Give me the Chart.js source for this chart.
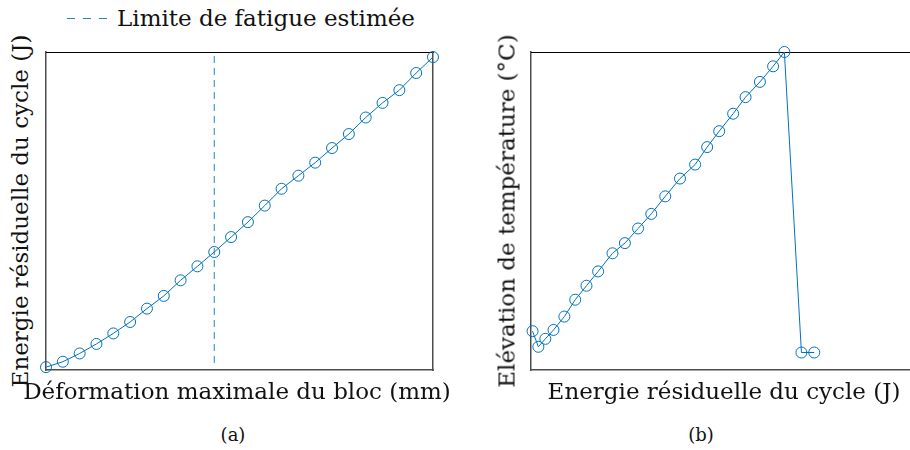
<!DOCTYPE html>
<html>
<head>
<meta charset="utf-8">
<script src="https://cdn.jsdelivr.net/npm/chart.js@4/dist/chart.umd.min.js"></script>
<style>
html,body{margin:0;padding:0;background:#fff;overflow:hidden;width:910px;height:450px;}
body{position:relative;font-family:"DejaVu Serif",serif;color:#111;}
canvas{position:absolute;}
.lbl{position:absolute;white-space:nowrap;font-size:23px;line-height:23px;}
.cap{position:absolute;white-space:nowrap;font-size:18px;line-height:18px;transform:translateX(-50%);}
.xt{transform:translateX(-50%);}
.yt{transform:translate(-50%,-50%) rotate(-90deg);}
#legendLine{position:absolute;left:67px;top:18px;width:40px;height:1px;
  background:repeating-linear-gradient(to right,#1f86d0 0 8px,transparent 8px 16px);}
</style>
</head>
<body>
<div id="legendLine"></div>
<div class="lbl" style="left:117px;top:7px;">Limite de fatigue estimée</div>

<canvas id="chartA" width="411" height="342" style="left:34px;top:40px;"></canvas>
<canvas id="chartB" width="412" height="342" style="left:519px;top:40px;"></canvas>

<div class="lbl yt" style="left:20px;top:211px;">Energie résiduelle du cycle (J)</div>
<div class="lbl xt" style="left:237px;top:380px;">Déformation maximale du bloc (mm)</div>
<div class="lbl yt" style="left:507px;top:211px;">Elévation de température (°C)</div>
<div class="lbl xt" style="left:724px;top:380px;">Energie résiduelle du cycle (J)</div>

<div class="cap" style="left:233px;top:426px;">(a)</div>
<div class="cap" style="left:701px;top:426px;">(b)</div>

<script>
const BLUE = "#0072BD";
const DASH = "#1f86d0";

// (a) energie residuelle vs deformation
const deformation = [1,2,3,4,5,6,7,8,9,10,11,12,13,14,15,16,17,18,19,20,21,22,23,24];
const energyA = [0.9,2.6,5.2,8.2,11.5,15.1,19.3,23.3,28.2,32.6,37.1,41.8,46.5,51.7,57.0,61.1,65.2,69.8,74.2,79.4,84.0,88.0,93.4,98.4];
const fatigueX = [11, 11];
const fatigueY = [2.2, 100];

// (b) elevation de temperature vs energie residuelle
const energyB = [0.4,1.9,3.7,5.8,8.6,11.4,14.3,17.3,21.0,24.2,27.6,31.0,34.6,38.4,42.3,45.4,48.5,52.1,55.3,59.0,62.4,65.3,69.7,73.0];
const tempB = [12.2,7.3,9.8,12.6,16.8,22.1,26.5,31.0,36.7,39.9,44.5,49.1,54.6,60.2,64.6,70.1,75.1,80.6,85.8,90.6,95.5,100,5.5,5.5];

function pts(xs, ys) { return xs.map((x,i)=>({x, y: ys[i]})); }

function frameScales(xmin, xmax, ymin, ymax) {
  const off = { display:false, drawTicks:false };
  const side = (pos, axis, min, max, color, width) => ({
    type:"linear", position:pos, axis, min, max,
    ticks:{display:false}, grid:off,
    border:{display:true, color, width}
  });
  return {
    x:  side("bottom","x",xmin,xmax,"#4d4d4d",1.5),
    y:  side("left","y",ymin,ymax,"#4d4d4d",1.5),
    x2: side("top","x",xmin,xmax,"#000",1),
    y2: side("right","y",ymin,ymax,"#4d4d4d",1.5)
  };
}

function seriesStyle(data) {
  return {
    data, showLine:true, tension:0, clip:false,
    borderColor:BLUE, borderWidth:1,
    pointRadius:5.5, pointHoverRadius:5.5,
    pointBorderColor:BLUE, pointBorderWidth:1,
    pointBackgroundColor:"rgba(0,0,0,0)"
  };
}

const common = {
  responsive:false, animation:false,
  layout:{padding:12},
  plugins:{legend:{display:false}, tooltip:{enabled:false}}
};

new Chart(document.getElementById("chartA"), {
  type:"scatter",
  data:{datasets:[
    seriesStyle(pts(deformation, energyA)),
    { label:"Limite de fatigue estimée", data:pts(fatigueX, fatigueY), showLine:true,
      borderColor:DASH, borderWidth:1, borderDash:[7,5], pointRadius:0 }
  ]},
  options:{...common, scales:frameScales(1, 24, 0, 100)}
});

new Chart(document.getElementById("chartB"), {
  type:"scatter",
  data:{datasets:[ seriesStyle(pts(energyB, tempB)) ]},
  options:{...common, scales:frameScales(0, 100, 0, 100)}
});
</script>
</body>
</html>
